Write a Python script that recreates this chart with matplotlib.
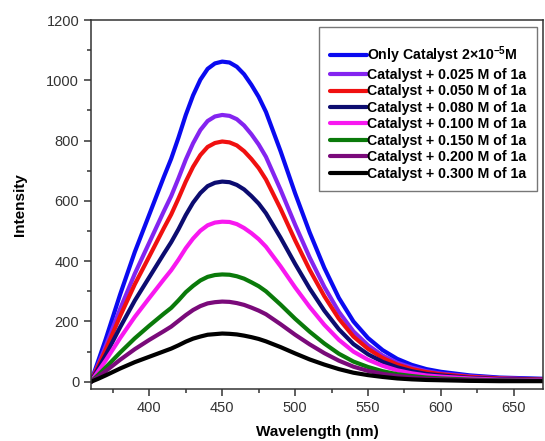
import numpy as np
import matplotlib
matplotlib.use("Agg")
import matplotlib.pyplot as plt
from matplotlib.ticker import MultipleLocator

plt.rcParams['font.family'] = ['Liberation Sans', 'DejaVu Sans']
plt.rcParams['mathtext.fontset'] = 'custom'
plt.rcParams['mathtext.rm'] = 'Liberation Sans'
plt.rcParams['mathtext.bf'] = 'Liberation Sans:bold'

# wavelength grid (nm), denser where the curves bend
wavelength = [360, 365, 370, 380, 390, 400, 410, 415, 420, 425,
              430, 435, 440, 445, 450, 455, 460, 465, 470, 475,
              480, 490, 500, 510, 520, 530, 540, 550, 560, 570,
              580, 590, 600, 620, 640, 670]

only_cat = [0, 70, 140, 290, 430, 555, 680, 740, 810, 885,
            950, 1002, 1038, 1056, 1062, 1059, 1045, 1020, 985, 945,
            895, 765, 625, 495, 378, 278, 200, 145, 105, 76,
            56, 42, 33, 21, 14, 10]
c_025 = [0, 58, 117, 242, 358, 462, 566, 616, 675, 737,
         791, 835, 865, 880, 885, 882, 871, 850, 821, 787,
         746, 637, 521, 412, 315, 232, 167, 121, 87, 63,
         47, 35, 27, 18, 12, 8]
c_050 = [0, 53, 105, 218, 323, 416, 510, 555, 608, 664,
         713, 752, 779, 792, 797, 794, 784, 765, 739, 709,
         671, 574, 469, 371, 284, 209, 150, 109, 79, 57,
         42, 32, 25, 16, 11, 7]
c_080 = [0, 44, 88, 181, 269, 347, 425, 463, 506, 553,
         594, 626, 649, 660, 664, 662, 653, 638, 616, 591,
         559, 478, 391, 309, 236, 174, 125, 91, 66, 48,
         35, 26, 21, 13, 9, 6]
c_100 = [0, 35, 70, 145, 215, 278, 340, 370, 405, 443,
         475, 501, 519, 528, 531, 530, 523, 510, 493, 473,
         448, 383, 313, 248, 189, 139, 100, 73, 53, 38,
         28, 21, 17, 11, 7, 5]
c_150 = [0, 23, 47, 97, 144, 186, 226, 245, 270, 297,
         318, 336, 348, 354, 356, 355, 350, 342, 330, 317,
         300, 256, 209, 166, 127, 93, 67, 49, 35, 25,
         19, 14, 11, 7, 5, 3]
c_200 = [0, 17, 35, 73, 108, 139, 168, 183, 202, 221,
         238, 251, 260, 264, 266, 265, 261, 255, 246, 236,
         224, 191, 156, 124, 95, 70, 50, 36, 26, 19,
         14, 10, 8, 5, 4, 3]
c_300 = [0, 10, 21, 44, 65, 83, 101, 110, 121, 133,
         143, 150, 156, 158, 160, 159, 157, 153, 148, 142,
         134, 115, 94, 74, 57, 42, 30, 22, 16, 11,
         8, 6, 5, 3, 2, 2]

series = [only_cat, c_025, c_050, c_080, c_100, c_150, c_200, c_300]
labels = [r"Only Catalyst 2×10$^{\mathbf{-5}}$M",
          "Catalyst + 0.025 M of 1a",
          "Catalyst + 0.050 M of 1a",
          "Catalyst + 0.080 M of 1a",
          "Catalyst + 0.100 M of 1a",
          "Catalyst + 0.150 M of 1a",
          "Catalyst + 0.200 M of 1a",
          "Catalyst + 0.300 M of 1a"]
colors = ['#0a0af0', '#8424f0', '#f01010', '#0c0c70', '#f818f0',
          '#0a7a0a', '#7a0a7a', '#000000']

fig = plt.figure(figsize=(5.45, 4.41), dpi=100)
ax = fig.add_axes([91/545, 1 - 389/441, 452/545, 369/441])

for y, lab, col in zip(series, labels, colors):
    ax.plot(wavelength, y, color=col, lw=3.0, label=lab,
            solid_capstyle='round', solid_joinstyle='round')

ax.set_xlim(360, 670)
ax.set_ylim(-24, 1200)
ax.xaxis.set_major_locator(MultipleLocator(50))
ax.xaxis.set_minor_locator(MultipleLocator(25))
ax.yaxis.set_major_locator(MultipleLocator(200))
ax.yaxis.set_minor_locator(MultipleLocator(100))
ax.tick_params(which='both', direction='out', width=1.1, color='#333333',
               labelsize=10.5, labelcolor='#333333', top=False, right=False)
ax.tick_params(which='major', length=5)
ax.tick_params(which='minor', length=3)
for s in ax.spines.values():
    s.set_linewidth(1.1)
    s.set_color('#333333')

ax.set_xlabel("Wavelength (nm)", fontsize=11, fontweight='bold', labelpad=7)
ax.set_ylabel("Intensity", fontsize=11, fontweight='bold', labelpad=14)

leg = ax.legend(loc='upper right', bbox_to_anchor=(0.987, 0.981),
                borderaxespad=0, fancybox=False,
                prop={'weight': 'bold', 'size': 10.2},
                handlelength=2.6, handletextpad=0.05, labelspacing=0.17,
                borderpad=0.75, title=' ', title_fontsize=3)
leg.get_frame().set_edgecolor('#555555')
leg.get_frame().set_linewidth(1.0)

fig.savefig("out.png", dpi=100)
